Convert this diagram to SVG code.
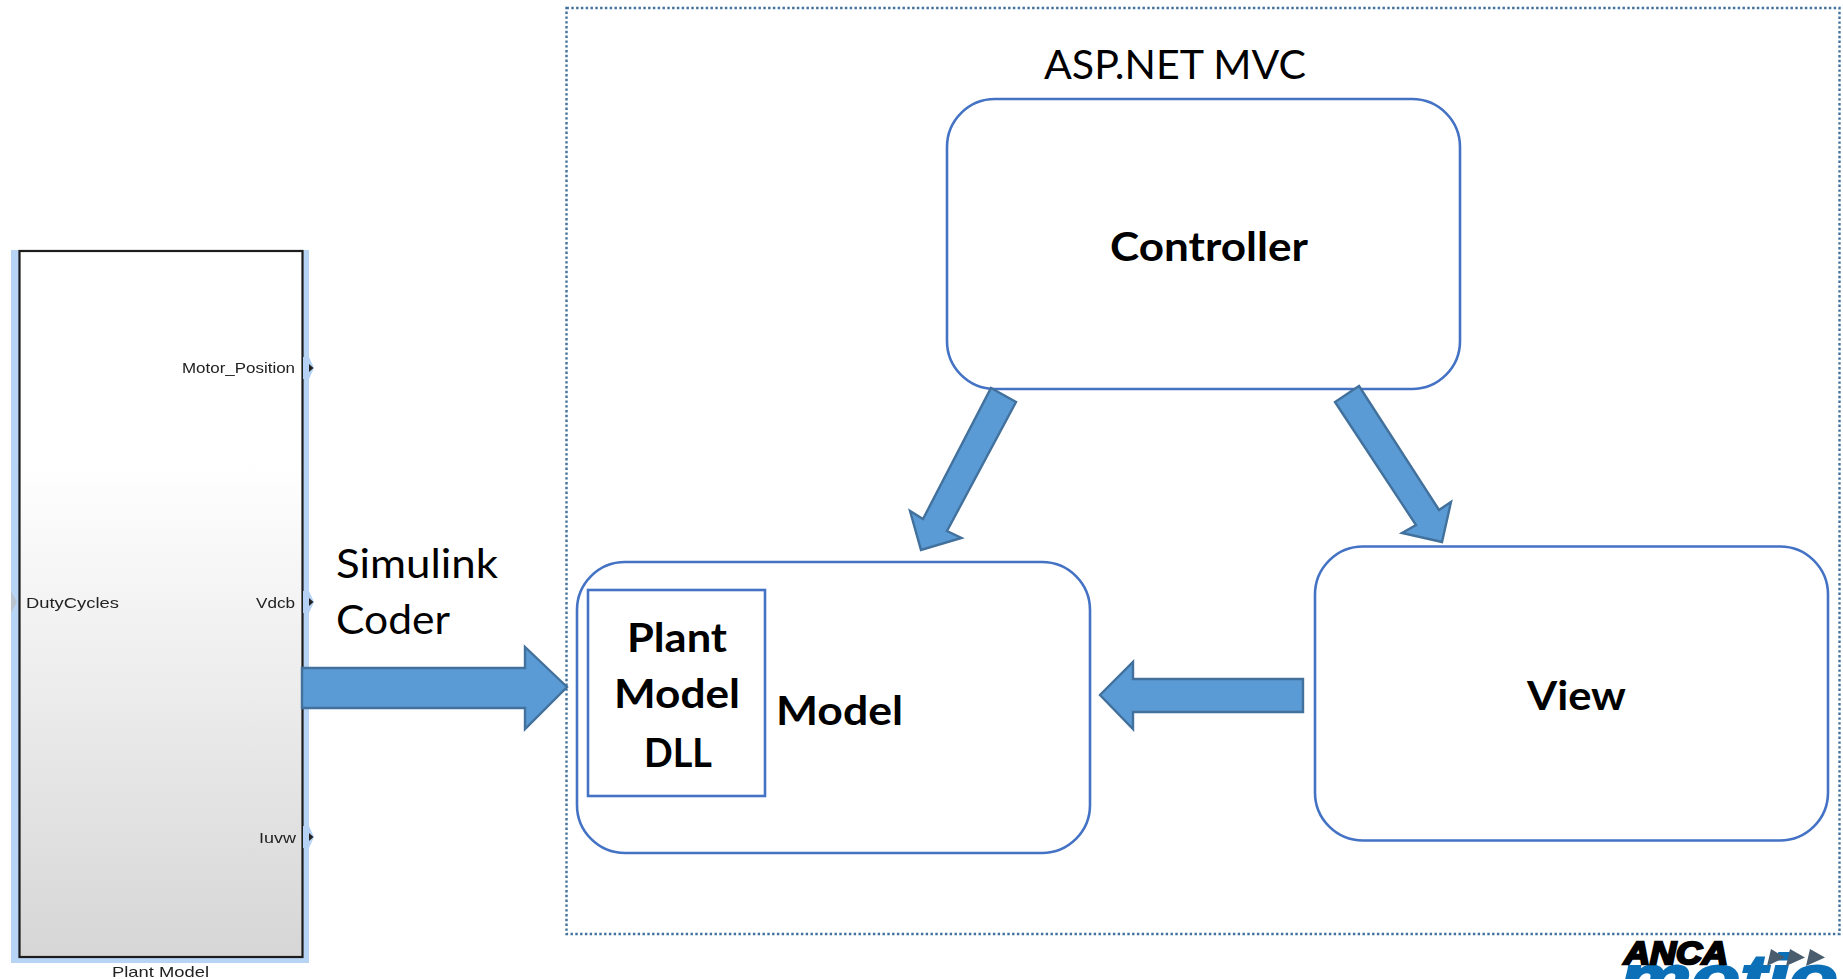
<svg xmlns="http://www.w3.org/2000/svg" width="1843" height="979" viewBox="0 0 1843 979">
<style>
.box{fill:#fff;stroke:#4472c4;stroke-width:2.6}
.arrow{fill:#5b9bd5;stroke:#41719c;stroke-width:2.4}
.t{font-family:Lato,"Liberation Sans",sans-serif;fill:#000;font-size:40px}
.b{font-weight:700}
.s{font-family:"Liberation Sans",Arial,sans-serif;font-size:15px;fill:#222}
.port{fill:#b5d2f4}
.tri{fill:#222}
</style>
<defs>
<linearGradient id="g" x1="0" y1="0" x2="0" y2="1">
<stop offset="0" stop-color="#fff"/><stop offset="0.3" stop-color="#fff"/><stop offset="1" stop-color="#d6d6d6"/>
</linearGradient>
<filter id="soft" x="-5%" y="-5%" width="110%" height="110%"><feGaussianBlur stdDeviation="0.45"/></filter>
</defs>
<rect width="1843" height="979" fill="#fff"/>
<rect id="container" x="566.5" y="8" width="1273" height="926" fill="none" stroke="#41719c" stroke-width="2.4" stroke-dasharray="2.4 2.4"/>
<text class="t" x="1044" y="79" textLength="262" lengthAdjust="spacingAndGlyphs">ASP.NET MVC</text>
<g id="plant-block" filter="url(#soft)">
<rect x="11" y="250" width="298" height="713" fill="#b8d4f5"/>
<rect x="19.500" y="251" width="283" height="706" fill="url(#g)" stroke="#1c1c1c" stroke-width="2.2"/>
<path class="port" d="M303 357l6 0 5 11-5 11-6 0zM303 591l6 0 5 11-5 11-6 0zM303 826l6 0 5 11-5 11-6 0z"/>
<path class="tri" d="M309 364l4.500 4-4.500 4zM309 598l4.500 4-4.500 4zM309 833l4.500 4-4.500 4z"/>
<path d="M11 591l6 11-6 11z" fill="#b9c3d0"/>
<text class="s" x="182" y="373" textLength="113" lengthAdjust="spacingAndGlyphs">Motor_Position</text>
<text class="s" x="26" y="608" textLength="93" lengthAdjust="spacingAndGlyphs">DutyCycles</text>
<text class="s" x="256" y="608" textLength="39" lengthAdjust="spacingAndGlyphs">Vdcb</text>
<text class="s" x="259" y="843" textLength="37" lengthAdjust="spacingAndGlyphs">Iuvw</text>
<text class="s" x="112" y="977" textLength="97" lengthAdjust="spacingAndGlyphs">Plant Model</text>
</g>
<g id="simulink-coder-label">
<text class="t" x="336" y="578" textLength="162" lengthAdjust="spacingAndGlyphs">Simulink</text>
<text class="t" x="336" y="634" textLength="114" lengthAdjust="spacingAndGlyphs">Coder</text>
</g>
<g id="controller">
<rect class="box" x="947" y="99" width="513" height="290" rx="48"/>
<text class="t b" x="1110" y="261" textLength="198" lengthAdjust="spacingAndGlyphs">Controller</text>
</g>
<g id="model">
<rect class="box" x="577" y="562" width="513" height="291" rx="48"/>
<text class="t b" x="776" y="725" textLength="127" lengthAdjust="spacingAndGlyphs">Model</text>
</g>
<g id="plant-model-dll">
<rect class="box" x="588" y="590" width="177" height="206"/>
<text class="t b" x="627" y="652" textLength="100" lengthAdjust="spacingAndGlyphs">Plant</text>
<text class="t b" x="614" y="708" textLength="126" lengthAdjust="spacingAndGlyphs">Model</text>
<text class="t b" x="644" y="767" textLength="68" lengthAdjust="spacingAndGlyphs">DLL</text>
</g>
<g id="view">
<rect class="box" x="1315" y="546.500" width="513" height="294" rx="48"/>
<text class="t b" x="1527" y="710" textLength="99" lengthAdjust="spacingAndGlyphs">View</text>
</g>
<g id="connectors">
<path class="arrow" d="M991 388L1016 402 947 531 961.500 538 921 550 910 511 923 519Z"/>
<path class="arrow" d="M1359 386L1335 402 1416 525 1402 533 1442 542 1451 502 1439 510Z"/>
<path class="arrow" d="M1303 679L1133 679 1133 662 1100 695 1133 729 1133 712 1303 712Z"/>
<path class="arrow" d="M302 668L525 668 525 647 567 687 525 729 525 708 302 708Z"/>
</g>
<g id="logo">
<text x="1620" y="1000" font-family="Liberation Sans,Arial,sans-serif" font-weight="700" font-style="italic" font-size="64" fill="#0b70b8" stroke="#0b70b8" stroke-width="2" textLength="267" lengthAdjust="spacingAndGlyphs">motion</text>
<text x="1624" y="964" font-family="Liberation Sans,Arial,sans-serif" font-weight="700" font-style="italic" font-size="32" fill="#000" textLength="104" lengthAdjust="spacingAndGlyphs" stroke="#000" stroke-width="2.4">ANCA</text>
<path d="M1771 949l14 8.500-18 8.500zM1790 949l15 8.500-19 8.500zM1810 949l15 8.500-19 8.500z" fill="#4a5d6e"/>
</g>
</svg>
